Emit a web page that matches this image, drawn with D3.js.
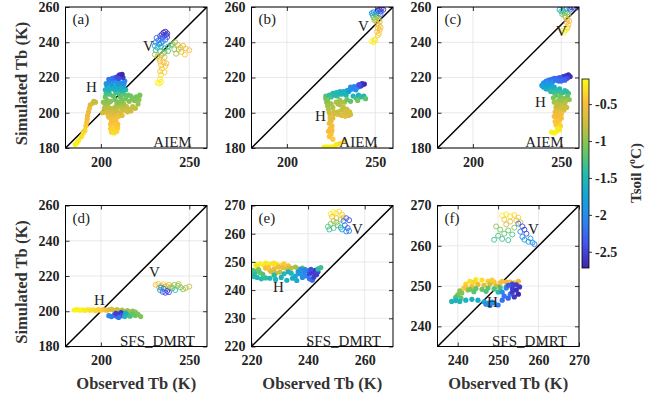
<!DOCTYPE html>
<html><head><meta charset="utf-8">
<script src="https://cdn.jsdelivr.net/npm/d3@7"></script>
<style>body{margin:0;background:#fff}</style>
</head><body><svg id="chart" width="655" height="398"></svg>
<script>
// ---------- DATA: [observed Tb, simulated Tb, Tsoil] ----------
const aiemH_a = [[185.5,182.0,-0.2],[186.5,183.0,-0.2],[187.5,184.5,-0.25],[189,186.5,-0.3],[190,188.5,-0.3],[191,190,-0.35],[191.5,192.5,-0.4],[192,194.5,-0.45],[192.3,196.5,-0.5],[192.5,198.5,-0.55],[193,200.5,-0.6],[193.5,202.5,-0.55],[194,204.5,-0.65],[195.5,205.5,-0.7],[197,206,-0.75],[196,206.5,-0.8],
[206,189,-0.35],[207.5,188.5,-0.3],[209,189.5,-0.35],[205.5,191,-0.4],[209.5,191.5,-0.4],[207,190.5,-0.35],[208,192.5,-0.4],[205.5,193.5,-0.45],[209.5,193.5,-0.45],[207,194.5,-0.45],[206,195.5,-0.5],[208.5,196,-0.5],[204.5,197.5,-0.55],[207,198,-0.55],[210,198,-0.5],
[204,199,-0.6],[206.5,199.5,-0.65],[208.5,199,-0.6],[212,198.5,-0.6],[215,200.5,-0.7],[217,201,-0.75],[219.5,202.5,-0.8],
[201,200,-0.7],[203,200.5,-0.7],[205,201,-0.75],[207,200.5,-0.7],[209,201,-0.75],[211,200.5,-0.7],[213,201.5,-0.75],[202,202.5,-0.8],[204,203,-0.8],[206,202.5,-0.8],[208,203,-0.85],[210,203.5,-0.85],[212,203,-0.8],[214.5,203.5,-0.8],[216,202,-0.75],[218,203.5,-0.8],[202.5,204.5,-0.9],[213,205,-0.9],[204,205.5,-0.95],[209,205,-0.95],[211.5,205.5,-0.95],[221,205,-0.95],[221.5,207.5,-1.0],
[201.5,206,-1.0],[203.5,207,-1.05],[205.5,206.5,-1.0],[208,207.5,-1.1],[210,206,-1.05],[212,207,-1.05],[214,208,-1.1],[216,206.5,-1.05],[218,208,-1.1],[220,209,-1.1],[222,210,-1.1],[217,209.5,-1.1],[202.5,209,-1.15],[207,209.5,-1.2],[211,209,-1.15],[213,210.5,-1.2],[203,211,-1.3],[208.5,211.5,-1.3],[215.5,210,-1.15],[219,207,-1.05],[205,210.5,-1.25],[210,211,-1.3],
[202.5,213,-1.5],[204.5,212.5,-1.5],[206,213.5,-1.55],[208,213,-1.5],[210,213.5,-1.55],[212,212.5,-1.5],[214,213,-1.5],[203.5,215,-1.7],[206.5,215.5,-1.75],[209.5,215.5,-1.75],[212.5,215,-1.7],[204,214,-1.6],[208,214.5,-1.65],[211,214,-1.6],
[203,216.5,-1.9],[205,217.5,-2.0],[207,218,-2.05],[209,217.5,-2.0],[211,217,-2.0],[213,216.5,-1.95],[204.5,219,-2.15],[206.5,219.5,-2.2],[208,220,-2.3],[213.5,218,-2.05],[206,216.5,-1.9],[210,216.5,-1.9],
[209.5,220.5,-2.5],[210.5,221.5,-2.6],[211.5,221,-2.65],[212.5,220,-2.55],[210,219.5,-2.45],[212,221.8,-2.7]];
const aiemV_a = [[234.5,244.5,-2.6],[235.5,245.5,-2.65],[236.5,246,-2.7],[237.5,245,-2.65],[236,244,-2.55],[233.5,243.5,-2.5],[235,243,-2.45],[237,244.2,-2.6],
[231.5,242.5,-2.3],[232.5,241,-2.2],[234,242,-2.3],[235,240.5,-2.15],[236.5,241.5,-2.2],[231,240,-2.1],[233,239,-2.0],[237.5,243,-2.4],[234,239.5,-1.95],
[230.5,238,-1.8],[232,237,-1.65],[234,237.5,-1.6],[236,236.5,-1.5],[238,237.5,-1.4],[239.5,238.5,-1.3],[231,235.5,-1.45],[233.5,235,-1.3],[236,234.5,-1.2],[238,235,-1.15],
[230.5,233,-0.9],[232,232,-0.8],[234,232.5,-0.75],[236,231.5,-0.7],[233,230.5,-0.6],[235,233.5,-0.9],
[233.5,229,-0.5],[235.5,228.5,-0.5],[234,227,-0.45],[236.5,226.5,-0.45],[234.5,225,-0.4],[233.5,223.5,-0.45],[236,223,-0.4],[234,221.5,-0.35],[237,228,-0.55],
[232,217,-0.2],[233,216.5,-0.2],[234,217.5,-0.25],[233.5,219,-0.25],
[240.5,239,-1.0],[242,240,-0.9],[243.5,238.5,-0.8],[245,237,-0.7],[246.5,238,-0.6],[244,236,-0.75],[248,236.5,-0.55],[250,235.5,-0.5],[241.5,236,-1.1],[242.5,233.5,-0.9],[245.5,234.5,-0.6],[247.5,233,-0.45]];
const aiemH_b = [[221,180.5,-0.2],[222.5,180.6,-0.2],[224,180.5,-0.2],[225.5,180.7,-0.2],[227,180.8,-0.2],[228,182,-0.25],[230,182.5,-0.3],[232.5,184,-0.35],
[226,185,-0.4],[224,186.5,-0.45],[225,188,-0.45],[223.5,189.5,-0.5],[225.5,190,-0.5],[224.5,191,-0.5],[225.5,192.5,-0.5],[224,194,-0.55],[225,195.5,-0.6],[224.5,196.5,-0.6],[226,197,-0.65],[224.5,198,-0.6],
[222,208,-1.1],[222.5,206,-1.0],[223,204,-0.9],[223.5,202,-0.85],[224,200,-0.75],[225,205,-0.95],[226,203,-0.85],[226.5,200.5,-0.75],[222,209.5,-1.2],[223,207,-1.05],
[227,199.5,-0.7],[229,199,-0.65],[231,198.5,-0.65],[233,198,-0.6],[235,198.5,-0.65],[236,199,-0.68],
[228,206,-0.9],[230,204.5,-0.85],[232,203,-0.8],[234,202,-0.75],[235.5,200.5,-0.7],[230,207,-0.95],[232.5,206,-0.9],[229,200.5,-0.75],[231,201.5,-0.78],[233,200,-0.72],[229,205,-0.88],
[224,210,-1.4],[226,211,-1.5],[228,211.5,-1.55],[230,212,-1.6],[232,212,-1.65],[234,212.5,-1.7],[228.5,209.5,-1.35],[231,210.5,-1.45],[233.5,210,-1.4],[225,209,-1.3],[227,210,-1.45],[229,211,-1.5],[231,211.5,-1.6],[233,211,-1.55],[235,212,-1.75],
[235.5,213,-1.85],[237,213.5,-1.95],[238.5,214,-2.05],[240,214.5,-2.15],[241.5,215,-2.3],[239,213,-1.95],[236,214.5,-2.0],[238,214.8,-2.1],[240.5,215.7,-2.3],
[242,215.5,-2.5],[243,216,-2.6],[243.8,216.3,-2.7],[242.5,216.5,-2.65],[241,216,-2.45],
[237.5,209.5,-1.6],[239,208.5,-1.3],[240.5,210,-1.55],[242,209,-1.4],[243.5,209.5,-1.5],[244.5,208,-1.2],[240,207,-1.1],[236,206.5,-1.2],[234,207.5,-1.15]];
const aiemV_b = [[251.5,258,-2.6],[252.5,258.5,-2.65],[253.5,259,-2.7],[254.5,258.5,-2.65],[253,257.5,-2.5],
[248,256.5,-2.0],[249,257,-2.1],[250,256,-1.9],[251,257,-2.2],[252,256.5,-2.2],[248.5,255.5,-1.7],[250.5,255,-1.6],[253,256,-2.3],
[249,254,-1.2],[250,253.5,-1.0],[251,254.5,-1.1],[252,253,-0.9],[250.5,252,-0.8],[252.5,251.5,-0.7],[249.5,252.5,-0.85],
[251,250.5,-0.6],[252,249.5,-0.55],[251.5,248,-0.5],[252.5,247,-0.5],[251,246,-0.45],[252,245,-0.45],[251.5,244,-0.4],[253,248.5,-0.5],
[248,240.5,-0.2],[249,240,-0.2],[250,241,-0.25],[249.5,241.5,-0.3]];
const aiemH_c = [[251,220.5,-2.5],[252.5,221,-2.6],[254,221.5,-2.7],[255,220.5,-2.65],[253.5,219.8,-2.55],[253,219.5,-2.45],
[240,217,-2.0],[241.5,218,-2.1],[243,218.5,-2.15],[244.5,219,-2.2],[246,219.5,-2.25],[247.5,219.5,-2.3],[249,220,-2.35],[250.5,219,-2.35],[252,218.5,-2.3],[245,217.5,-2.05],[248.5,218,-2.15],[242,217.5,-2.05],[244,216.5,-1.95],[247,218.5,-2.2],[250,218,-2.25],
[239,215.5,-1.85],[240,214.5,-1.75],[241.5,213.5,-1.65],[243,214,-1.7],[244.5,215,-1.75],[246,214.5,-1.7],[242,216,-1.85],[243.5,213,-1.6],[245,213.5,-1.6],[247,212.5,-1.5],[249,213.5,-1.55],
[244,212,-1.4],[246,211.5,-1.35],[248,212,-1.4],[250,211,-1.3],[252,212.5,-1.45],[254,211,-1.3],[247,210,-1.2],[249.5,209,-1.1],[251.5,208,-1.05],[253.5,209.5,-1.15],[245.5,208.5,-1.1],[254.5,207.5,-1.0],[251,211.5,-1.35],[253,212,-1.4],[248.5,207,-1.0],[250.5,206.5,-0.95],[252.5,207,-0.95],
[246,206,-0.9],[248,205,-0.85],[250,204,-0.8],[252,205.5,-0.85],[247,203,-0.75],[249,202,-0.7],[251.5,201.5,-0.65],[246.5,200.5,-0.6],[250,199.5,-0.55],[253,203,-0.75],[247.5,204,-0.8],[251,203,-0.75],[248,200.5,-0.6],
[246,198,-0.5],[247.5,197,-0.5],[249,196,-0.45],[246.5,195,-0.45],[248.5,194,-0.4],[247,193,-0.4],[249.5,192.5,-0.35],[248,198.5,-0.55],[250,197,-0.5],[247.5,195.5,-0.45],
[244.5,189,-0.2],[246,188.5,-0.2],[247.5,189.5,-0.2],[249,190.5,-0.25],[248,191,-0.25]];
const aiemV_c = [[253,259,-2.2],[254.5,259.5,-2.4],[256,259.8,-2.6],[257.5,259.5,-2.65],[259,259.8,-2.7],[255,258.5,-2.3],
[249,258.5,-1.7],[250,257.5,-1.5],[251,258,-1.6],[252,256.5,-1.3],[250.5,256,-1.2],[253.5,257,-1.4],[252,255,-1.0],[254,255.5,-0.9],
[252.5,254,-0.7],[253.5,253,-0.6],[253,251.5,-0.55],[254,250,-0.5],[253.5,248.5,-0.45],[254.5,252,-0.55],
[250.5,246.5,-0.2],[251.5,245.5,-0.2],[252.5,247,-0.25],[253.5,248,-0.3]];
const dmrtH_d = [[185,200.7,-0.2],[186.5,200.9,-0.2],[188,200.6,-0.2],[189.5,200.8,-0.2],[191,200.5,-0.25],[192.5,200.9,-0.25],[194,200.6,-0.3],[195.5,200.8,-0.3],[197,200.4,-0.35],[198.5,200.9,-0.35],[200,200.5,-0.4],[201.5,201,-0.45],[203,200.6,-0.5],
[204.5,200.8,-0.6],[206,201.2,-0.65],[207.5,200.4,-0.7],[209,200.9,-0.75],[210.5,200.2,-0.8],[212,200.6,-0.85],[213.5,199.8,-0.9],[215,200.3,-0.9],[216.5,199.6,-0.95],[218,200.1,-1.0],[219.5,199.5,-1.0],
[204.5,197.5,-2.0],[206,197,-2.1],[207.5,197.8,-2.2],[209,197.2,-2.3],[210.5,198.5,-2.5],[211.5,199.2,-2.6],[212,197.5,-2.4],[210,196.5,-2.2],[208.5,198.8,-2.55],
[213.5,197,-1.5],[215,198,-1.4],[216.5,197.2,-1.3],[218,198.5,-1.2],[219.5,197.6,-1.15],[221,198.2,-1.1],[222.5,197,-1.05],[214,199,-1.6]];
const dmrtV_d = [[231,215,-0.6],[232.5,215.5,-0.5],[234,214.5,-0.45],[235.5,215.3,-0.4],[237,214.2,-0.5],[238.5,215,-0.55],[240,214,-0.65],[233,213.5,-0.8],[236,213.8,-0.85],[239,213.2,-0.9],
[233.5,212,-2.0],[235,211,-2.3],[236.5,210.5,-2.5],[237.5,211.5,-2.6],[238.5,210.8,-2.4],[235.5,212.8,-2.2],[234,213.5,-1.9],
[240.5,213,-1.3],[242,212,-1.4],[243.5,214.5,-1.2],[245,213.5,-1.1],[246.5,212.5,-1.0],[248,213.2,-0.9],[250,214,-0.75],[241.5,215,-1.0],[244,215.5,-0.8]];
const dmrtH_e = [[221.5,249,-0.2],[223,249.3,-0.2],[224.5,248.8,-0.25],[226,249.2,-0.25],[227.5,249.4,-0.3],[229,249,-0.3],[230.5,248.7,-0.35],[222,248.5,-0.3],[225,249.6,-0.25],[228,249.6,-0.3],[231.5,249.3,-0.4],[233,248.6,-0.5],
[225,247.8,-0.5],[226.5,247,-0.55],[228,247.5,-0.6],[229.5,248.2,-0.55],[231,248,-0.6],[232.5,247.6,-0.7],[234,247.8,-0.8],[235.5,248.2,-0.9],[226,248,-0.45],[227,246.5,-0.7],[228.5,246,-0.75],[230,246.4,-0.8],[236.5,247.5,-1.0],[238,247.8,-1.2],
[220.5,247,-1.2],[221.5,246.6,-1.3],[222.5,247.3,-1.1],[221,245.5,-1.4],[222,244.5,-1.5],[223.5,244,-1.45],[225,244.3,-1.4],[224,245.6,-1.25],[223,246.2,-1.2],[220.8,244.8,-1.45],
[226.5,244.2,-1.5],[228.5,243.8,-1.55],[230.5,244.5,-1.6],[232.5,243.5,-1.6],[234.5,244.2,-1.65],[236,243.4,-1.7],[228,245.3,-1.45],[231.5,245.8,-1.5],[234,246,-1.55],[233,246.5,-1.6],[235.5,245,-1.7],
[236.5,246.5,-1.9],[237.5,247.4,-2.0],[238.5,246.2,-2.05],[239.5,245,-2.1],[240.5,244,-2.2],[241.5,243.5,-2.25],[240,246.8,-2.2],[238,244.5,-2.0],[237,245.8,-1.9],[239,247.3,-2.1],
[240.5,245.8,-2.5],[241.5,246.4,-2.6],[242.5,247,-2.65],[243,245.5,-2.6],[242,244.6,-2.55],[241,247.4,-2.45],[242.5,246,-2.55],[243.5,246.5,-2.5],
[244.5,248,-1.3],[243.5,247.5,-1.4]];
const dmrtV_e = [[248,267,-0.25],[249,267.6,-0.2],[250,267.3,-0.3],[251,267.8,-0.35],[252,266.8,-0.4],[248.5,266,-0.5],[250,265.5,-0.6],[251.5,265,-0.7],[249,264.5,-0.8],[252.5,265.8,-0.55],
[247,262.5,-1.2],[248,263.5,-1.1],[249,262,-1.3],[250.5,263,-1.2],[247.5,261.5,-1.4],[251.5,262.2,-1.5],[250,264,-1.0],
[252.5,264.5,-2.0],[253.5,265.5,-2.3],[254.5,264.8,-2.5],[253,263,-2.2],[254,262,-2.4],[254.5,261,-2.1],[253.5,260.8,-2.0],[252,261.5,-1.8]];
const dmrtH_f = [[241.5,249.5,-0.4],[242,250.5,-0.35],[243,251.2,-0.3],[244.5,251.6,-0.25],[246,251.5,-0.3],[247.5,251.2,-0.4],[249,251,-0.45],[250.5,250.8,-0.5],[252,251,-0.55],[243.5,250,-0.5],[245,250.4,-0.6],[246.5,250.2,-0.65],[248,250.5,-0.7],[249.5,250,-0.75],[244,249.4,-0.55],[242,249.8,-0.45],[251,251.2,-0.5],[244,251,-0.35],[248.5,251.5,-0.4],
[253,251,-0.5],[254,250.8,-0.45],[255,251.2,-0.5],
[240.5,248.8,-1.0],[240,247.8,-1.1],[241,248.3,-1.05],[242.5,249,-0.9],[240.8,247,-1.2],[239.5,247.2,-1.3],
[243,249.2,-1.1],[244.5,249.4,-1.2],[246,249.2,-1.15],[247.5,249.5,-1.2],[249,249.3,-1.25],[250.5,249.6,-1.3],[252,249.8,-1.2],[250,248.5,-1.4],[247,248.7,-1.25],[244,248.6,-1.2],
[238.5,246.2,-1.5],[239.5,246.4,-1.55],[240.5,246.2,-1.55],[242,246.5,-1.6],[243.5,246.7,-1.6],[245,246.5,-1.65],[246.5,246.1,-1.7],[247.5,245.8,-1.75],
[247,245.5,-2.0],[248,245.2,-2.1],[249,245.8,-2.1],[250,245.3,-2.15],[251,246.5,-2.2],[248.5,246,-1.9],
[251,248.5,-2.0],[252,249.5,-2.1],[253,248,-2.2],[252.5,247,-2.3],[251.5,247.5,-2.2],
[253.5,249.5,-2.55],[254.5,249,-2.65],[255,248,-2.7],[254,247.3,-2.6],[253.5,250.5,-2.5],[255.3,249.8,-2.6],[252.5,250.2,-2.4],[254.5,250.3,-2.55],[253.5,248.5,-2.6]];
const dmrtV_f = [[251,267.5,-0.2],[252,267.8,-0.25],[253,267.3,-0.3],[254,267.6,-0.35],[255,267,-0.4],[251.5,266.5,-0.5],[253,266,-0.6],[254.5,266.3,-0.55],[252,265.3,-0.7],[255.5,265.8,-0.75],
[249.5,264.8,-1.0],[250.5,264,-1.1],[251.5,263,-1.2],[252.5,263.8,-1.15],[253.5,262.8,-1.25],[250,262.5,-1.3],[249,261.5,-1.35],[251,261.7,-1.3],[252.5,261.4,-1.4],[254,264.5,-1.05],
[255,265.5,-2.2],[256,264.8,-2.4],[256.5,264,-2.6],[257,263,-2.5],[255.5,263.5,-2.1],[256,262.2,-2.0],
[256.5,261.5,-1.8],[257.5,261,-1.9],[258.5,260.8,-2.0],[259,260.4,-2.1],[258,261.8,-1.8]];

const ticksX_ad = [200, 250];
const ticksY_ad = [180, 200, 220, 240, 260];
const ticksX_e = [220, 240, 260];
const ticksY_e = [220, 230, 240, 250, 260, 270];
const ticksXY_f = [240, 250, 260, 270];
const cbarTicks = [-0.5, -1, -1.5, -2, -2.5];
const tsoilRange = [-2.72, -0.16];
const panelLetters = ["(a)","(b)","(c)","(d)","(e)","(f)"];

// ---------- LAYOUT ----------
const svg = d3.select("#chart");
const colX = [65.5, 251.5, 437.5], rowY = [7, 205.5], W = 141.5, H = 141;
const serif = "'Liberation Serif','Times New Roman',serif";

const parulaStops = ["#3e26a8","#4453ef","#2c85f0","#13a3d8","#25bcaa","#6ec65c","#c3bf3e","#fcbd3d","#f9fb15"];
const parula = d3.scaleLinear().domain(d3.range(9).map(i => i/8)).range(parulaStops).clamp(true);
const tnorm = d3.scaleLinear().domain(tsoilRange).range([0,1]);
const color = t => parula(tnorm(t));

const panels = [
  {H: aiemH_a, V: aiemV_a, dom:[180,260], tx: ticksX_ad, ty: ticksY_ad, model:"AIEM", col:0,row:0, hl:[26,85], vl:[83,44]},
  {H: aiemH_b, V: aiemV_b, dom:[180,260], tx: ticksX_ad, ty: ticksY_ad, model:"AIEM", col:1,row:0, hl:[69,114], vl:[112,24]},
  {H: aiemH_c, V: aiemV_c, dom:[180,260], tx: ticksX_ad, ty: ticksY_ad, model:"AIEM", col:2,row:0, hl:[103,100], vl:[124,29]},
  {H: dmrtH_d, V: dmrtV_d, dom:[180,260], tx: ticksX_ad, ty: ticksY_ad, model:"SFS_DMRT", col:0,row:1, hl:[34,99], vl:[89,71]},
  {H: dmrtH_e, V: dmrtV_e, dom:[220,270], tx: ticksX_e, ty: ticksY_e, model:"SFS_DMRT", col:1,row:1, hl:[27,86], vl:[106,28]},
  {H: dmrtH_f, V: dmrtV_f, dom:[235,270], tx: ticksXY_f, ty: ticksXY_f, model:"SFS_DMRT", col:2,row:1, hl:[55,101], vl:[96,28]}
];

panels.forEach((p, i) => {
  const x0 = colX[p.col], y0 = rowY[p.row];
  const g = svg.append("g").attr("transform", `translate(${x0},${y0})`);
  const x = d3.scaleLinear().domain(p.dom).range([0, W]);
  const y = d3.scaleLinear().domain(p.dom).range([H, 0]);
  g.append("g").selectAll("line").data(p.tx).join("line")
    .attr("x1", d => x(d)).attr("x2", d => x(d)).attr("y1", 0).attr("y2", H)
    .attr("stroke", "#e3e3e3").attr("stroke-width", 0.8);
  g.append("g").selectAll("line").data(p.ty).join("line")
    .attr("y1", d => y(d)).attr("y2", d => y(d)).attr("x1", 0).attr("x2", W)
    .attr("stroke", "#e3e3e3").attr("stroke-width", 0.8);
  const cid = "clip" + i;
  g.append("clipPath").attr("id", cid).append("rect").attr("width", W).attr("height", H);
  const pg = g.append("g").attr("clip-path", `url(#${cid})`);
  pg.append("line").attr("x1", x(p.dom[0])).attr("y1", y(p.dom[0])).attr("x2", x(p.dom[1])).attr("y2", y(p.dom[1]))
    .attr("stroke", "#000").attr("stroke-width", 1.5);
  pg.append("g").selectAll("circle").data(p.V).join("circle")
    .attr("cx", d => x(d[0])).attr("cy", d => y(d[1])).attr("r", 2.5)
    .attr("fill", "none").attr("stroke", d => color(d[2])).attr("stroke-width", 0.9);
  pg.append("g").selectAll("circle").data(p.H).join("circle")
    .attr("cx", d => x(d[0])).attr("cy", d => y(d[1])).attr("r", 2.6)
    .attr("fill", d => color(d[2]));
  const ax = (axis, tr) => {
    const a = g.append("g").attr("transform", tr).call(axis);
    a.select(".domain").remove();
    a.selectAll("line").attr("stroke", "#000").attr("stroke-width", 0.8);
    a.selectAll("text").attr("font-family", serif).attr("font-weight", "bold").attr("font-size", 14).attr("fill", "#222");
    return a;
  };
  ax(d3.axisBottom(x).tickValues(p.tx).tickSize(-4).tickPadding(9).tickFormat(d3.format("d")), `translate(0,${H})`);
  ax(d3.axisLeft(y).tickValues(p.ty).tickSize(-4).tickPadding(6).tickFormat(d3.format("d")), `translate(0,0)`);
  ax(d3.axisTop(x).tickValues(p.tx).tickSize(-4).tickFormat(""), `translate(0,0)`);
  ax(d3.axisRight(y).tickValues(p.ty).tickSize(-4).tickFormat(""), `translate(${W},0)`);
  g.append("rect").attr("width", W).attr("height", H).attr("fill", "none").attr("stroke", "#000").attr("stroke-width", 1);
  const txt = (s, tx, ty, anchor) => g.append("text").attr("x", tx).attr("y", ty)
    .attr("font-family", serif).attr("font-size", 15).attr("fill", "#222").attr("text-anchor", anchor || "middle").text(s);
  txt(panelLetters[i], 7, 17, "start");
  txt(p.model, p.model === "AIEM" ? 107 : 92, 140);
  txt("H", p.hl[0], p.hl[1]);
  txt("V", p.vl[0], p.vl[1]);
  if (p.col === 0) {
    svg.append("text").attr("transform", `translate(${27},${y0 + H/2 + 6}) rotate(-90)`)
      .attr("text-anchor", "middle").attr("font-family", serif).attr("font-weight", "bold").attr("font-size", 16.5)
      .attr("fill", "#333").text("Simulated Tb (K)");
  }
  if (p.row === 1) {
    svg.append("text").attr("x", x0 + W/2).attr("y", 389)
      .attr("text-anchor", "middle").attr("font-family", serif).attr("font-weight", "bold").attr("font-size", 16.5)
      .attr("fill", "#333").text("Observed Tb (K)");
  }
});

// ---------- COLORBAR ----------
const cbX = 582, cbY = 79, cbW = 7, cbH = 189;
const defs = svg.append("defs");
const grad = defs.append("linearGradient").attr("id", "pgrad").attr("x1", 0).attr("y1", 1).attr("x2", 0).attr("y2", 0);
parulaStops.forEach((c, k) => grad.append("stop").attr("offset", k/8).attr("stop-color", c));
svg.append("rect").attr("x", cbX).attr("y", cbY).attr("width", cbW).attr("height", cbH).attr("fill", "url(#pgrad)");
const cy = d3.scaleLinear().domain(tsoilRange).range([cbY + cbH, cbY]);
const cb = svg.append("g").attr("transform", `translate(${cbX + cbW},0)`)
  .call(d3.axisRight(cy).tickValues(cbarTicks).tickSize(3).tickPadding(3).tickFormat(d => String(d)));
cb.select(".domain").remove();
cb.selectAll("line").attr("stroke", "#000").attr("stroke-width", 0.8);
cb.selectAll("text").attr("font-family", serif).attr("font-weight", "bold").attr("font-size", 14).attr("fill", "#222");
svg.append("rect").attr("x", cbX).attr("y", cbY).attr("width", cbW).attr("height", cbH).attr("fill", "none").attr("stroke", "#000").attr("stroke-width", 0.8);
const cl = svg.append("text").attr("transform", `translate(641,173) rotate(-90)`)
  .attr("text-anchor", "middle").attr("font-family", serif).attr("font-weight", "bold").attr("font-size", 15).attr("fill", "#333");
cl.append("tspan").text("Tsoil (");
cl.append("tspan").attr("font-size", 10).attr("dy", -6).text("o");
cl.append("tspan").attr("dy", 6).text("C)");
</script></body></html>
